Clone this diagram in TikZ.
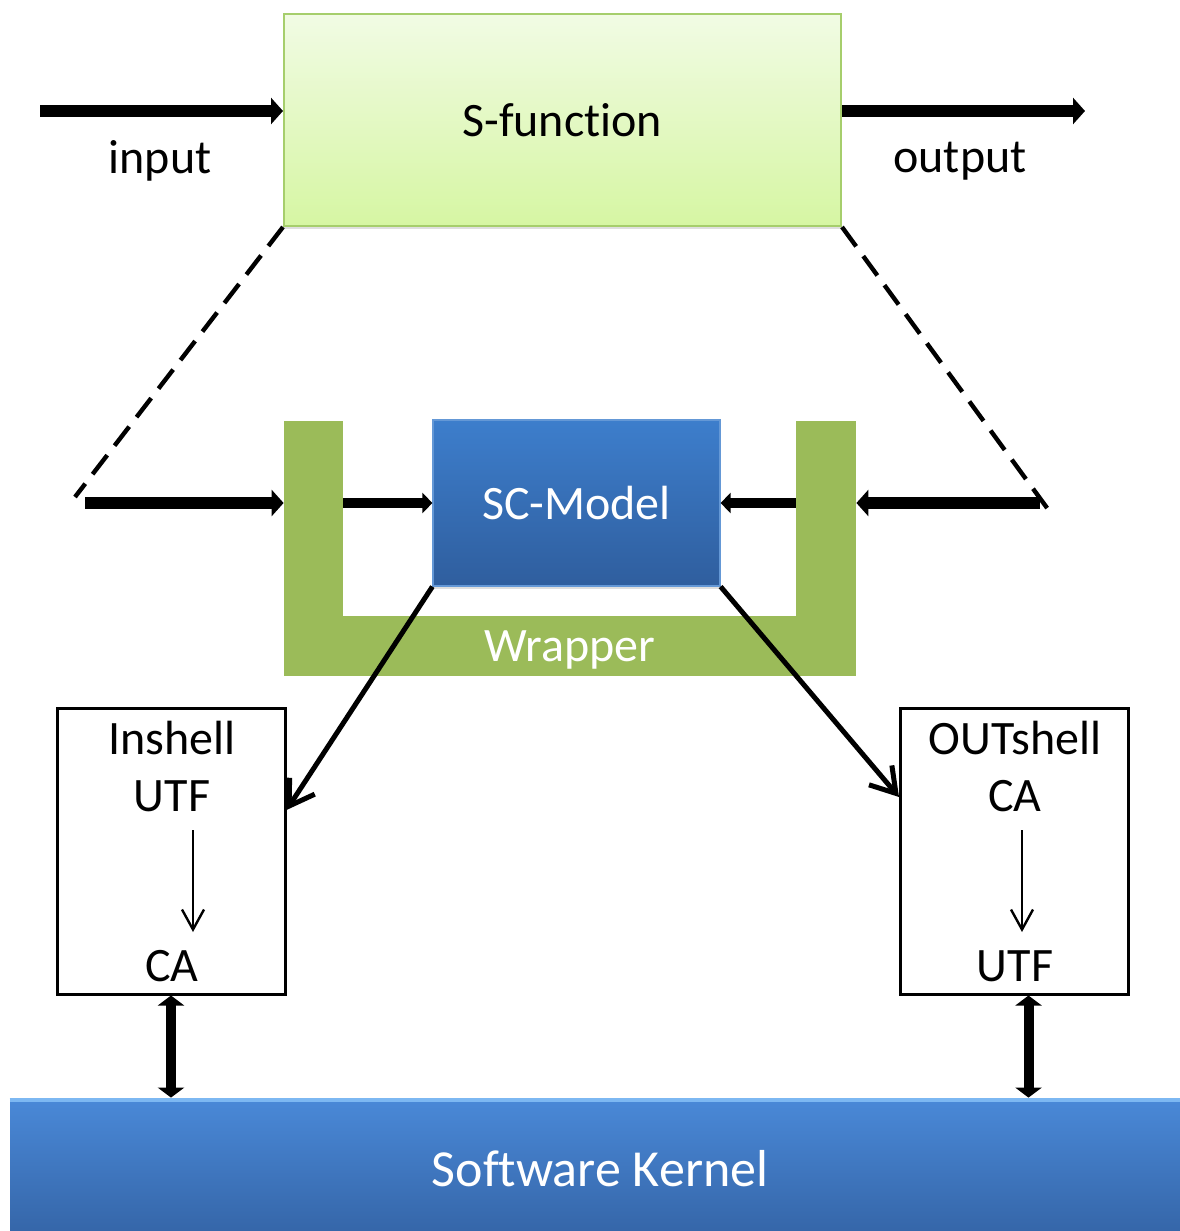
\documentclass[tikz,border=0pt]{standalone}
\usepackage{fontspec}
\setmainfont{Carlito}[RawFeature=-liga]
\usetikzlibrary{arrows.meta,shadows}

\definecolor{sfTop}{HTML}{F1FBE4}
\definecolor{sfBot}{HTML}{D6F6A3}
\definecolor{sfEdge}{HTML}{A6CE6C}
\definecolor{wrapGreen}{HTML}{9BBB59}
\definecolor{scTop}{HTML}{3D7ECC}
\definecolor{scBot}{HTML}{2F5E9E}
\definecolor{skTop}{HTML}{4A89D8}
\definecolor{skBot}{HTML}{3464A6}
\definecolor{skEdge}{HTML}{7DB8F2}

\tikzset{
  lbl/.style={font=\fontsize{24}{28}\selectfont, inner sep=2pt},
  wrap/.style={fill=wrapGreen, inner sep=0pt},
  shell/.style={draw=black, line width=1.5pt, minimum width=114pt, minimum height=143pt, inner sep=0pt},
  fat/.style={line width=6pt, -{Triangle[length=6pt,width=13pt]}},
  mid/.style={line width=5pt, -{Triangle[length=5pt,width=10pt]}},
  dbl/.style={line width=5pt, {Triangle[length=5pt,width=13pt]}-{Triangle[length=5pt,width=13pt]}},
  diag/.style={line width=2.5pt, -{Straight Barb[length=12pt,width=15pt,line width=2.5pt]}},
  thinarr/.style={line width=1pt, -{Straight Barb[length=10pt,width=11pt,line width=1.2pt]}},
  dashline/.style={line width=2.2pt, dash pattern=on 12pt off 6pt},
}

\begin{document}
\begin{tikzpicture}[x=0.5pt,y=-0.5pt]
    \useasboundingbox (0,0) rectangle (1179,1231);

    % S-function block
    \node[lbl, draw=sfEdge, line width=1pt, top color=sfTop, bottom color=sfBot,
          minimum width=278.5pt, minimum height=106pt,
          drop shadow={shadow xshift=0pt, shadow yshift=-1.5pt, opacity=0.25}] (sf) at (562.5,120) {S-function};
    \node[lbl] (inlbl) at (160,161) {input};
    \node[lbl] (outlbl) at (960,161) {output};

    % Wrapper
    \node[wrap, minimum width=29.5pt, minimum height=127.5pt] (wl) at (313.5,548.5) {};
    \node[wrap, minimum width=30pt, minimum height=127.5pt] (wr) at (826,548.5) {};
    \node[wrap, lbl, text=white, text depth=0pt, minimum width=286pt, minimum height=30pt] (wb) at (570,646) {Wrapper};

    % SC-Model
    \node[lbl, text=white, draw=scTop!80!white, line width=0.6pt, top color=scTop, bottom color=scBot,
          minimum width=143.5pt, minimum height=83pt,
          drop shadow={shadow xshift=0pt, shadow yshift=-1.5pt, opacity=0.25}] (sc) at (576.5,503) {SC-Model};

    % Shells
    \node[shell] (ish) at (171,851) {};
    \node[lbl] (ishT) at (172,738) {Inshell};
    \node[lbl] (ishA) at (172,796) {UTF};
    \node[lbl] (ishB) at (172,966) {CA};
    \node[shell] (osh) at (1014.5,851) {};
    \node[lbl] (oshT) at (1015,738) {OUTshell};
    \node[lbl] (oshA) at (1015,796) {CA};
    \node[lbl] (oshB) at (1015,966) {UTF};

    % Kernel
    \node[lbl, font=\fontsize{26}{30}\selectfont, text=white, top color=skTop, bottom color=skBot,
          minimum width=590pt, minimum height=71pt] (sk) at (600,1169) {Software Kernel};
    \draw[skEdge, line width=2pt] ([yshift=-1pt]sk.north west) -- ([yshift=-1pt]sk.north east);

    % Free ends
    \coordinate (inS) at (40,111);
    \coordinate (outE) at (1085,111);
    \coordinate (dl) at (75,497);
    \coordinate (dr) at (1050,512);
    \coordinate (lin) at (85,503);
    \coordinate (rin) at (1040,503);

    % Connectors
    \draw[fat] (inS) -- (inS -| sf.west);
    \draw[fat] (sf.east |- outE) -- (outE);
    \draw[dashline] (sf.south west) -- (dl);
    \draw[dashline] (sf.south east) -- (dr);
    \draw[fat] (lin) -- (lin -| wl.west);
    \draw[mid] (wl.east |- sc.west) -- (sc.west);
    \draw[mid] (wr.west |- sc.east) -- (sc.east);
    \draw[fat] (rin) -- (rin -| wr.east);
    \draw[diag] (sc.south west) -- ([yshift=20.5pt]ish.east);
    \draw[diag] (sc.south east) -- ([yshift=27pt]osh.west);
    \draw[thinarr] ([xshift=11pt,yshift=10.5pt]ish.center) -- ([xshift=11pt,yshift=-40.5pt]ish.center);
    \draw[thinarr] ([xshift=3.75pt,yshift=10.5pt]osh.center) -- ([xshift=3.75pt,yshift=-40.5pt]osh.center);
    \draw[dbl] (ish.south) -- (ish.south |- sk.north);
    \draw[dbl] ([xshift=7pt]osh.south) -- ([xshift=7pt]osh.south |- sk.north);
\end{tikzpicture}
\end{document}
